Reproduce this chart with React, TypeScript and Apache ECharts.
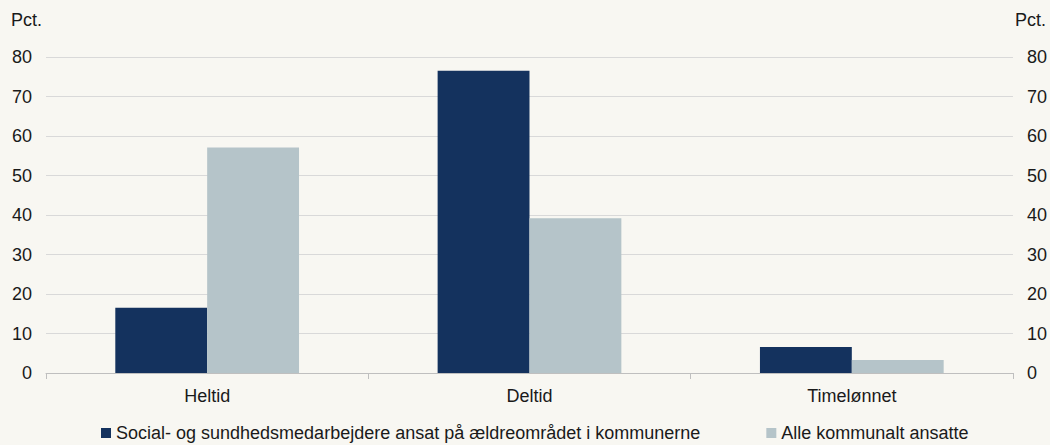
import React, { useEffect, useRef } from "react";
import * as echarts from "echarts";

const categories = ["Heltid", "Deltid", "Timelønnet"];
const seriesNames = [
  "Social- og sundhedsmedarbejdere ansat på ældreområdet i kommunerne",
  "Alle kommunalt ansatte",
];
const socialValues = [16.5, 76.5, 6.6];
const alleValues = [57.1, 39.2, 3.3];
const unitLabel = "Pct.";

export default function App() {
  const ref = useRef<HTMLDivElement>(null);
  useEffect(() => {
    document.body.style.margin = "0";
    if (!ref.current) return;
    const chart = echarts.init(ref.current, undefined, { renderer: "svg" });
    const font = "'Liberation Sans', Arial, sans-serif";
    const txt = "#1a1a1a";
    const yAxisBase = {
      type: "value" as const,
      min: 0,
      max: 80,
      interval: 10,
      name: unitLabel,
      nameGap: 28,
      axisLine: { show: false },
      axisTick: { show: false },
      axisLabel: { color: txt, fontSize: 18, fontFamily: font, margin: 14 },
      splitLine: { lineStyle: { color: "#d9d9d9", width: 1 } },
    };
    chart.setOption({
      animation: false,
      backgroundColor: "#f8f7f2",
      textStyle: { fontFamily: font },
      grid: { left: 46, right: 36, top: 57, bottom: 72, containLabel: false },
      legend: {
        top: 424,
        left: 101,
        itemWidth: 10,
        itemHeight: 10,
        itemGap: 66,
        icon: "rect",
        padding: 0,
        textStyle: { color: txt, fontSize: 18, fontFamily: font },
      },
      xAxis: {
        type: "category",
        data: categories,
        axisLine: { lineStyle: { color: "#bfbfbf" } },
        axisTick: { show: true, alignWithLabel: false, length: 6, lineStyle: { color: "#bfbfbf" } },
        axisLabel: { color: txt, fontSize: 18, fontFamily: font, margin: 14 },
      },
      yAxis: [
        {
          ...yAxisBase,
          position: "left",
          nameTextStyle: { color: txt, fontSize: 18, fontFamily: font, align: "right", padding: [0, 4, 0, 0] },
        },
        {
          ...yAxisBase,
          position: "right",
          splitLine: { show: false },
          nameTextStyle: { color: txt, fontSize: 18, fontFamily: font, align: "left", padding: [0, 0, 0, 2] },
        },
      ],
      series: [
        {
          name: seriesNames[0],
          type: "bar",
          data: socialValues,
          itemStyle: { color: "#14325e" },
          barGap: "0%",
          barCategoryGap: "43%",
        },
        {
          name: seriesNames[1],
          type: "bar",
          yAxisIndex: 0,
          data: alleValues,
          itemStyle: { color: "#b5c4c9" },
          barGap: "0%",
          barCategoryGap: "43%",
        },
      ],
    });
    return () => chart.dispose();
  }, []);
  return <div ref={ref} style={{ width: 1050, height: 445 }} />;
}
